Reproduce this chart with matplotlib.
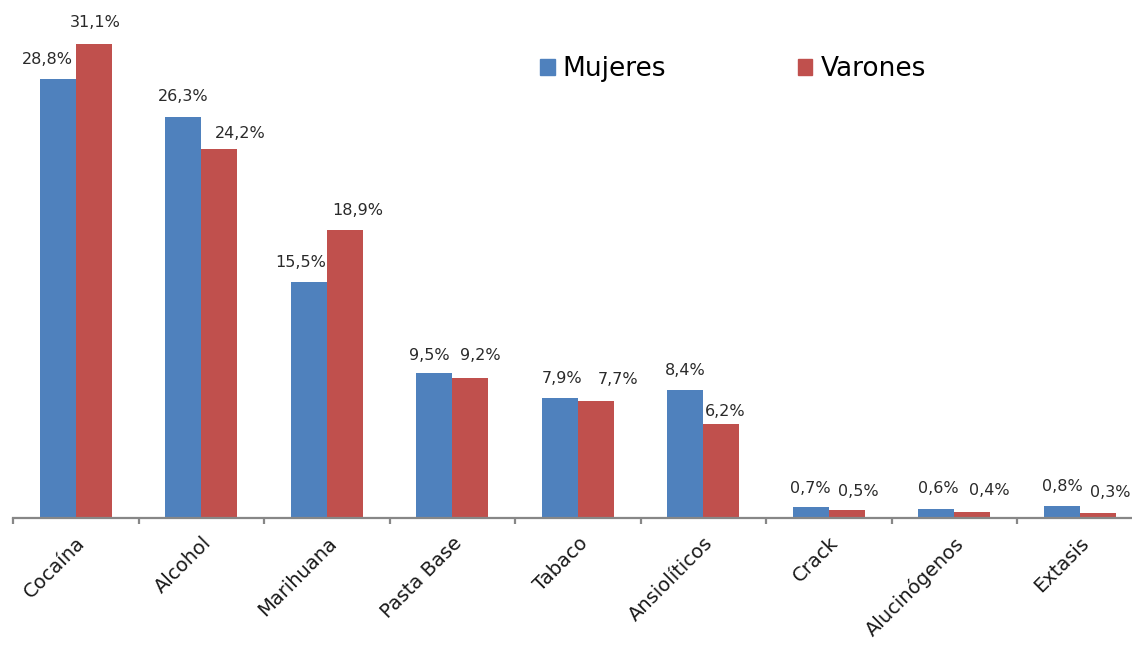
import matplotlib.pyplot as plt
from matplotlib.patches import Patch
import numpy as np

categorias = ["Cocaína", "Alcohol", "Marihuana", "Pasta Base", "Tabaco",
              "Ansiolíticos", "Crack", "Alucinógenos", "Extasis"]
mujeres = [28.8, 26.3, 15.5, 9.5, 7.9, 8.4, 0.7, 0.6, 0.8]
varones = [31.1, 24.2, 18.9, 9.2, 7.7, 6.2, 0.5, 0.4, 0.3]

# label nudges in pixels (dx, dy above bar top)
dx_muj = [-10, 0, -8, -5, 2, 0, 0, 2, 1]
dy_muj = [20, 21, 19, 18, 19, 20, 19, 20, 19]
dx_var = [1, 21, 13, 10, 22, 4, 12, 17, 12]
dy_var = [22, 16, 20, 22, 21, 12, 19, 21, 21]

azul = "#4F81BD"
rojo = "#C0504D"
font = "DejaVu Sans"

fig = plt.figure(figsize=(11.32, 6.46), dpi=100)
W, H = 1132, 646
ax = fig.add_axes([13 / W, 128 / H, 1129.5 / W, 518 / H])

x = np.arange(len(categorias))
w = 0.287
ax.bar(x - w / 2, mujeres, w, color=azul)
ax.bar(x + w / 2, varones, w, color=rojo)

ax.set_xlim(-0.5, len(categorias) - 0.5)
ax.set_ylim(0, 34)

for i in range(len(categorias)):
    ax.annotate(f"{mujeres[i]:.1f}%".replace(".", ","), (x[i] - w / 2, mujeres[i]),
                xytext=(dx_muj[i], dy_muj[i]), textcoords="offset pixels",
                ha="center", va="center", fontsize=11.5, family=font, color="#2a2a2a")
    ax.annotate(f"{varones[i]:.1f}%".replace(".", ","), (x[i] + w / 2, varones[i]),
                xytext=(dx_var[i], dy_var[i]), textcoords="offset pixels",
                ha="center", va="center", fontsize=11.5, family=font, color="#2a2a2a",
                annotation_clip=False)

for s in ["top", "right", "left"]:
    ax.spines[s].set_visible(False)
ax.spines["bottom"].set_color("#878787")
ax.spines["bottom"].set_linewidth(1.6)
ax.set_yticks([])

ax.set_xticks(x)
ax.set_xticklabels(categorias, rotation=45, ha="right", rotation_mode="anchor",
                   fontsize=14, family=font, color="#1a1a1a")
ax.tick_params(axis="x", which="major", length=0, pad=11)
ax.set_xticks(np.arange(len(categorias) + 1) - 0.5, minor=True)
ax.tick_params(axis="x", which="minor", length=4, width=1.6, color="#878787")

handles = [Patch(color=azul), Patch(color=rojo)]
fig.legend(handles, ["Mujeres", "Varones"], loc="center left",
           bbox_to_anchor=(540 / W, 1 - 69 / H), ncol=2, frameon=False,
           prop={"family": font, "size": 19}, handlelength=0.55, handleheight=0.55,
           handletextpad=0.3, columnspacing=5.0, borderpad=0, borderaxespad=0)

fig.savefig("out.png", dpi=100)
